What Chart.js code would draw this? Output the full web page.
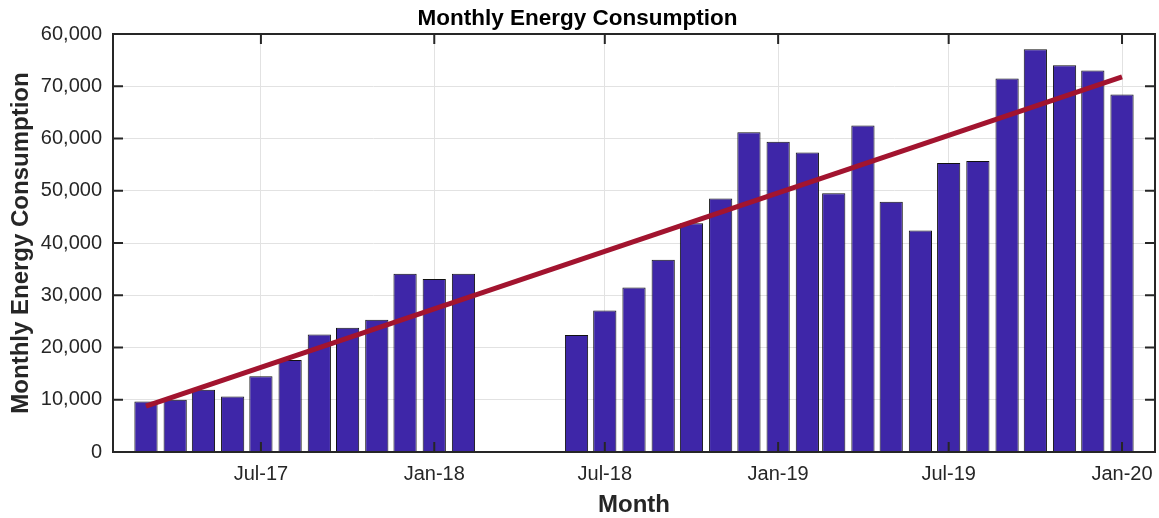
<!DOCTYPE html>
<html>
<head>
<meta charset="utf-8">
<title>Monthly Energy Consumption</title>
<script src="https://cdn.jsdelivr.net/npm/chart.js@4/dist/chart.umd.min.js"></script>
<style>
  body { margin: 0; background: #fff; }
</style>
</head>
<body>
<canvas id="energyChart" width="1159" height="518"></canvas>
<script>
var months = ["Mar-17", "Apr-17", "May-17", "Jun-17", "Jul-17", "Aug-17", "Sep-17", "Oct-17", "Nov-17", "Dec-17",
  "Jan-18", "Feb-18", "Mar-18", "Apr-18", "May-18", "Jun-18", "Jul-18", "Aug-18", "Sep-18", "Oct-18", "Nov-18", "Dec-18",
  "Jan-19", "Feb-19", "Mar-19", "Apr-19", "May-19", "Jun-19", "Jul-19", "Aug-19", "Sep-19", "Oct-19", "Nov-19", "Dec-19",
  "Jan-20"];
var consumption = [9650, 10000, 11900, 10600, 14500, 17600, 22500, 23800, 25300, 34100,
  33100, 34100, null, null, null, 22400, 27100, 31500, 36800, 43800, 48500, 61200,
  59400, 57300, 49500, 62500, 47900, 42400, 55300, 55700, 71500, 77100, 74000, 73000,
  68400];
var trendMonths = ["Mar-17", "Jan-20"];
var trendValues = [8800, 71800];
var xTickLabels = ["Jul-17", "Jan-18", "Jul-18", "Jan-19", "Jul-19", "Jan-20"];
var yTickLabels = ["0", "10,000", "20,000", "30,000", "40,000", "50,000", "60,000", "70,000", "60,000"];

var monthNames = ["Jan", "Feb", "Mar", "Apr", "May", "Jun", "Jul", "Aug", "Sep", "Oct", "Nov", "Dec"];
var FONT = "'Liberation Sans', Arial, Helvetica, sans-serif";
var AXIS_COLOR = "#262626";

// month label -> day number, so the axis spacing follows real dates
function toDay(label) {
  var parts = label.split("-");
  return Date.UTC(2000 + parseInt(parts[1], 10), monthNames.indexOf(parts[0]), 1) / 86400000;
}

var boxPlugin = {
  id: "boxPlugin",
  afterDraw: function(chart) {
    var ctx = chart.ctx;
    var area = chart.chartArea;
    var xs = chart.scales.x;
    var ys = chart.scales.y;
    var len = 10;
    ctx.save();
    ctx.strokeStyle = AXIS_COLOR;
    ctx.lineWidth = 2;
    ctx.strokeRect(area.left, area.top, area.right - area.left, area.bottom - area.top);
    ctx.beginPath();
    xs.ticks.forEach(function(t) {
      var px = xs.getPixelForValue(t.value);
      ctx.moveTo(px, area.bottom);
      ctx.lineTo(px, area.bottom - len);
      ctx.moveTo(px, area.top);
      ctx.lineTo(px, area.top + len);
    });
    ys.ticks.forEach(function(t) {
      var py = ys.getPixelForValue(t.value);
      ctx.moveTo(area.left, py);
      ctx.lineTo(area.left + len, py);
      ctx.moveTo(area.right, py);
      ctx.lineTo(area.right - len, py);
    });
    ctx.stroke();
    ctx.restore();
  }
};

function setupEnergyChart() {
  var barData = [];
  for (var i = 0; i < months.length; i++) {
    if (consumption[i] !== null) {
      barData.push({ x: toDay(months[i]), y: consumption[i] });
    }
  }
  var trendData = [];
  for (var j = 0; j < trendMonths.length; j++) {
    trendData.push({ x: toDay(trendMonths[j]), y: trendValues[j] });
  }
  var firstDay = toDay(months[0]);
  var lastDay = toDay(months[months.length - 1]);

  var ctx = document.getElementById("energyChart").getContext("2d");
  new Chart(ctx, {
    type: "bar",
    data: {
      datasets: [{
        type: "line",
        label: "Trend",
        data: trendData,
        borderColor: "#A2142F",
        borderWidth: 5,
        borderCapStyle: "butt",
        pointRadius: 0,
        fill: false,
        order: 0
      }, {
        label: "Monthly Energy Consumption",
        data: barData,
        backgroundColor: "#3E26A8",
        borderColor: "#111111",
        borderWidth: 1,
        barPercentage: 0.88,
        categoryPercentage: 1.0,
        order: 1
      }]
    },
    options: {
      responsive: false,
      animation: false,
      devicePixelRatio: 1,
      layout: { padding: { left: 0, right: 4, top: 0, bottom: 0 } },
      plugins: {
        legend: { display: false },
        tooltip: { enabled: false },
        title: {
          display: true,
          text: "Monthly Energy Consumption",
          color: "#000",
          font: { family: FONT, size: 22.5, weight: "bold", lineHeight: 1 },
          padding: { top: 8, bottom: 3.5 }
        }
      },
      scales: {
        x: {
          type: "linear",
          offset: false,
          min: firstDay - 35,
          max: lastDay + 35,
          afterBuildTicks: function(scale) {
            scale.ticks = xTickLabels.map(function(l) { return { value: toDay(l) }; });
          },
          afterFit: function(scale) {
            scale.height = 66;
            scale.paddingLeft = 0;
            scale.paddingRight = 0;
          },
          ticks: {
            color: AXIS_COLOR,
            font: { family: FONT, size: 20 },
            padding: 10,
            maxRotation: 0,
            callback: function(value) {
              for (var k = 0; k < xTickLabels.length; k++) {
                if (toDay(xTickLabels[k]) === value) return xTickLabels[k];
              }
              return "";
            }
          },
          grid: { color: "#e2e2e2", lineWidth: 1, drawTicks: false, offset: false },
          border: { display: false },
          title: {
            display: true,
            text: "Month",
            color: AXIS_COLOR,
            font: { family: FONT, size: 24, weight: "bold", lineHeight: 1 },
            padding: { top: 0, bottom: 1 }
          }
        },
        y: {
          min: 0,
          max: 80000,
          afterFit: function(scale) { scale.width = 113; },
          ticks: {
            stepSize: 10000,
            color: AXIS_COLOR,
            font: { family: FONT, size: 20 },
            padding: 11,
            callback: function(value, index) { return yTickLabels[index]; }
          },
          grid: { color: "#e2e2e2", lineWidth: 1, drawTicks: false },
          border: { display: false },
          title: {
            display: true,
            text: "Monthly Energy Consumption",
            color: AXIS_COLOR,
            font: { family: FONT, size: 24, weight: "bold", lineHeight: 1 },
            padding: { top: 9, bottom: 0 }
          }
        }
      }
    },
    plugins: [boxPlugin]
  });
}

setupEnergyChart();
</script>
</body>
</html>
